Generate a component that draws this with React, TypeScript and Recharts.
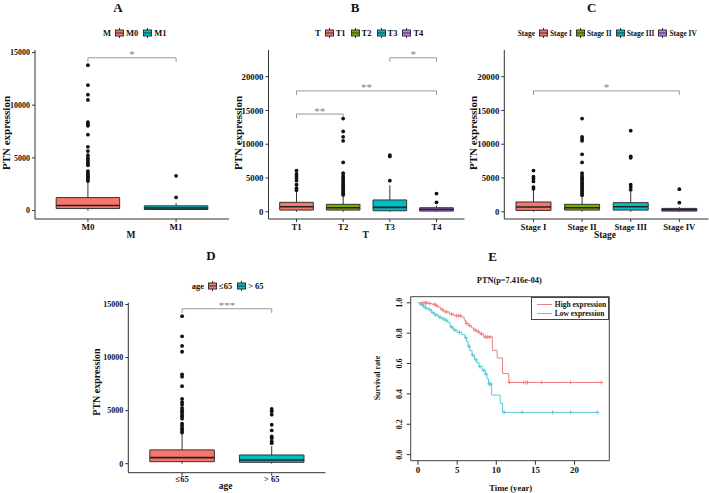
import React from "react"
import {
  ComposedChart,
  Line,
  ReferenceArea,
  ReferenceLine,
  Scatter,
  XAxis,
  YAxis,
} from "recharts"

const FONT = '"Liberation Serif", "Times New Roman", serif'
const TWO = ["#F8766D", "#00BFC4"]
const FOUR = ["#F8766D", "#7CAE00", "#00BFC4", "#C77CFF"]

// A: M stage
const mCats = ["M0", "M1"]
const mLow = [0, 40]
const mQ1 = [190, 100]
const mMed = [480, 250]
const mQ3 = [1230, 450]
const mHigh = [2750, 700]
const mOut = [
  [13800, 11900, 11000, 10500, 8400, 8200, 8050, 7200, 6050, 5650, 5250, 5000, 4800, 4600, 4450, 4300, 3750, 3580, 3420, 3260, 3100, 2950, 2800],
  [3300, 1250],
]
const mBrackets: [number, number, number, string][] = [[1, 2, 14500, "*"]]

// B: T stage
const tCats = ["T1", "T2", "T3", "T4"]
const tLow = [0, 0, 0, 0]
const tQ1 = [250, 250, 150, 100]
const tMed = [750, 600, 650, 350]
const tQ3 = [1400, 1100, 1750, 600]
const tHigh = [3000, 2400, 3900, 900]
const tOut = [
  [6100, 5600, 5300, 5000, 4600, 4000, 3500, 3200],
  [13800, 11900, 11100, 10500, 7300, 5700, 5300, 5000, 4750, 4500, 4250, 4000, 3750, 3500, 3250, 3000, 2750, 2500],
  [8400, 8200, 4600],
  [2700, 1400],
]
const tBrackets: [number, number, number, string][] = [
  [1, 2, 14470, "**"],
  [1, 4, 17900, "**"],
  [3, 4, 22800, "*"],
]

// C: pathological stage
const sCats = ["Stage I", "Stage II", "Stage III", "Stage IV"]
const sLow = [0, 0, 0, 0]
const sQ1 = [200, 250, 250, 100]
const sMed = [700, 600, 750, 300]
const sQ3 = [1450, 1100, 1350, 500]
const sHigh = [3200, 2300, 3000, 700]
const sOut = [
  [6100, 5200, 4900, 4500, 3650, 3400],
  [13800, 11100, 10800, 10500, 8500, 7300, 5700, 5300, 5000, 4800, 4500, 4200, 3900, 3600, 3300, 3000, 2700, 2450],
  [12000, 8200, 8000, 4000, 3650, 3250],
  [3350, 1350],
]
const sBrackets: [number, number, number, string][] = [[1, 4, 17900, "*"]]

// D: age
const aCats = ["≤65", "> 65"]
const aLow = [0, 0]
const aQ1 = [190, 130]
const aMed = [570, 350]
const aQ3 = [1300, 820]
const aHigh = [2800, 1650]
const aOut = [
  [13900, 12000, 11100, 10550, 8420, 8200, 7300, 6100, 5800, 5570, 5250, 5030, 4840, 4620, 4460, 4240, 3770, 3580, 3350, 3130, 2940],
  [5160, 4940, 4620, 3670, 3130, 2560, 2400, 2090, 1930],
]
const aBrackets: [number, number, number, string][] = [[1, 2, 14600, "***"]]

// E: Kaplan-Meier
const hiT = [0, 1.3, 1.8, 2.3, 2.6, 2.9, 3.3, 4.0, 4.6, 5.6, 5.9, 6.1, 6.4, 6.8, 7.1, 7.5, 7.9, 8.4, 9.5, 10.1, 10.8, 11.6, 23.5]
const hiS = [1.0, 0.995, 0.99, 0.98, 0.97, 0.955, 0.94, 0.925, 0.915, 0.905, 0.885, 0.865, 0.85, 0.835, 0.82, 0.81, 0.795, 0.775, 0.687, 0.637, 0.534, 0.475, 0.475]
const loT = [0, 0.3, 0.6, 0.9, 1.3, 1.7, 2.1, 2.6, 3.0, 3.4, 3.8, 4.1, 4.5, 5.0, 5.6, 6.0, 6.2, 6.4, 6.6, 6.9, 7.2, 7.5, 7.8, 8.2, 8.6, 8.8, 9.0, 9.4, 10.5, 10.8, 23.0]
const loS = [1.0, 0.99, 0.98, 0.965, 0.955, 0.935, 0.92, 0.905, 0.895, 0.885, 0.87, 0.84, 0.82, 0.805, 0.79, 0.77, 0.745, 0.715, 0.685, 0.655, 0.625, 0.605, 0.58, 0.555, 0.53, 0.5, 0.465, 0.392, 0.337, 0.278, 0.278]
const hiCensT = [0.6, 0.9, 1.1, 1.5, 2.1, 2.4, 3.1, 3.6, 4.3, 4.9, 5.2, 5.4, 6.2, 6.6, 7.3, 7.7, 8.1, 8.6, 8.9, 9.2, 11.7, 13.5, 13.8, 14.0, 15.8, 19.5, 23.4]
const hiCensS = [1.0, 1.0, 1.0, 0.995, 0.99, 0.98, 0.955, 0.94, 0.925, 0.915, 0.915, 0.915, 0.865, 0.85, 0.82, 0.81, 0.795, 0.775, 0.775, 0.775, 0.475, 0.475, 0.475, 0.475, 0.475, 0.475, 0.475]
const loCensT = [0.4, 0.7, 1.0, 1.5, 1.9, 2.3, 2.8, 3.2, 3.6, 4.3, 4.7, 5.3, 6.1, 6.5, 7.0, 7.4, 7.9, 8.4, 8.7, 9.1, 9.3, 11.0, 13.3, 17.2, 19.5, 22.9]
const loCensS = [0.99, 0.98, 0.965, 0.955, 0.935, 0.92, 0.905, 0.895, 0.885, 0.84, 0.82, 0.805, 0.77, 0.715, 0.655, 0.625, 0.58, 0.555, 0.53, 0.465, 0.465, 0.278, 0.278, 0.278, 0.278, 0.278]
const kmTicksX = [0, 5, 10, 15, 20]
const kmTicksY = [0, 0.2, 0.4, 0.6, 0.8, 1.0]

const HI = "#F08080"
const LO = "#5CC8D5"

function Txt({ x, y, size, children, rot, color = "#111" }: any) {
  return (
    <div
      style={{
        position: "absolute",
        left: x,
        top: y,
        transform: `translate(-50%, -50%)${rot ? " rotate(-90deg)" : ""}`,
        fontSize: size,
        fontWeight: "bold",
        whiteSpace: "nowrap",
        lineHeight: 1,
        color,
      }}
    >
      {children}
    </div>
  )
}

function BoxKey({ color }: { color: string }) {
  return (
    <svg width={9} height={10} style={{ display: "block", marginRight: 2 }}>
      <line x1={4.5} y1={0} x2={4.5} y2={10} stroke="#333" strokeWidth={1} />
      <rect x={0.5} y={2} width={8} height={6} fill={color} stroke="#333" strokeWidth={1} />
      <line x1={0.5} y1={5} x2={8.5} y2={5} stroke="#333" strokeWidth={1} />
    </svg>
  )
}

function KeyRow({ title, cats, colors, x, y, size, gap = 5 }: any) {
  return (
    <div
      style={{
        position: "absolute",
        left: x,
        top: y - 6,
        height: 12,
        display: "flex",
        alignItems: "center",
        fontSize: size,
        fontWeight: "bold",
        whiteSpace: "nowrap",
        color: "#111",
      }}
    >
      <span style={{ marginRight: 4 }}>{title}</span>
      {cats.map((c: string, i: number) => (
        <React.Fragment key={c}>
          <BoxKey color={colors[i]} />
          <span style={{ marginRight: gap }}>{c}</span>
        </React.Fragment>
      ))}
    </div>
  )
}

type BoxPanelProps = {
  cats: string[]
  low: number[]
  q1: number[]
  med: number[]
  q3: number[]
  high: number[]
  out: number[][]
  colors: string[]
  brackets: [number, number, number, string][]
  tip: number
  yDomain: [number, number]
  yTicks: number[]
  box: { left: number; top: number; width: number; height: number }
  plot: { left: number; top: number; right: number; bottom: number }
  yFont: number
  xFont: number
  xTickMargin?: number
}

function BoxPanel(p: BoxPanelProps) {
  const YW = 30
  const XH = 20
  const hw = 0.36
  const margin = {
    left: p.plot.left - p.box.left - YW,
    top: p.plot.top - p.box.top,
    right: p.box.left + p.box.width - p.plot.right,
    bottom: p.box.top + p.box.height - p.plot.bottom - XH,
  }
  const pts = p.out.flatMap((vals, i) => vals.map((v) => ({ x: i + 1, y: v })))
  const labels = p.brackets.map(([a, b, y, t]) => ({ x: (a + b) / 2, y, t }))
  const tickStyle = (size: number) => ({
    fontSize: size,
    fontWeight: "bold",
    fontFamily: FONT,
    fill: "#111",
  })

  return (
    <div style={{ position: "absolute", left: p.box.left, top: p.box.top }}>
      <ComposedChart width={p.box.width} height={p.box.height} margin={margin}>
        <XAxis
          type="number"
          dataKey="x"
          domain={[0.4, p.cats.length + 0.6]}
          ticks={p.cats.map((_, i) => i + 1)}
          tickFormatter={(v: number) => p.cats[Math.round(v) - 1]}
          interval={0}
          allowDataOverflow
          height={XH}
          stroke="#333"
          tickSize={3}
          tickMargin={p.xTickMargin ?? 2}
          tick={tickStyle(p.xFont)}
        />
        <YAxis
          type="number"
          dataKey="y"
          domain={p.yDomain}
          ticks={p.yTicks}
          allowDataOverflow
          width={YW}
          stroke="#333"
          tickSize={3}
          tick={tickStyle(p.yFont)}
        />
        {p.cats.map((c, i) => (
          <ReferenceLine
            key={"wl" + c}
            segment={[{ x: i + 1, y: p.low[i] }, { x: i + 1, y: p.q1[i] }]}
            stroke="#333"
          />
        ))}
        {p.cats.map((c, i) => (
          <ReferenceLine
            key={"wh" + c}
            segment={[{ x: i + 1, y: p.q3[i] }, { x: i + 1, y: p.high[i] }]}
            stroke="#333"
          />
        ))}
        {p.cats.map((c, i) => (
          <ReferenceArea
            key={"b" + c}
            x1={i + 1 - hw}
            x2={i + 1 + hw}
            y1={p.q1[i]}
            y2={p.q3[i]}
            fill={p.colors[i]}
            fillOpacity={1}
            stroke="#333"
            strokeWidth={1}
          />
        ))}
        {p.cats.map((c, i) => (
          <ReferenceLine
            key={"m" + c}
            segment={[{ x: i + 1 - hw, y: p.med[i] }, { x: i + 1 + hw, y: p.med[i] }]}
            stroke="#222"
            strokeWidth={1.6}
          />
        ))}
        {p.brackets.map(([a, b, y], k) => (
          <ReferenceLine
            key={"bh" + k}
            segment={[{ x: a, y }, { x: b, y }]}
            stroke="#999"
          />
        ))}
        {p.brackets.map(([a, , y], k) => (
          <ReferenceLine
            key={"bl" + k}
            segment={[{ x: a, y }, { x: a, y: y - p.tip }]}
            stroke="#999"
          />
        ))}
        {p.brackets.map(([, b, y], k) => (
          <ReferenceLine
            key={"br" + k}
            segment={[{ x: b, y }, { x: b, y: y - p.tip }]}
            stroke="#999"
          />
        ))}
        <Scatter
          data={pts}
          dataKey="y"
          isAnimationActive={false}
          shape={(s: any) => <circle cx={s.cx} cy={s.cy} r={1.9} fill="#111" />}
        />
        <Scatter
          data={labels}
          dataKey="y"
          isAnimationActive={false}
          shape={(s: any) => (
            <text
              x={s.cx}
              y={s.cy + 0.5}
              textAnchor="middle"
              fontSize={11}
              fontFamily={FONT}
              fill="#808080"
            >
              {s.payload?.t ?? s.t}
            </text>
          )}
        />
      </ComposedChart>
    </div>
  )
}

const RotTick = (p: any) => (
  <text
    x={p.x - 3}
    y={p.y}
    transform={`rotate(-90 ${p.x - 3} ${p.y})`}
    textAnchor="middle"
    fontSize={8}
    fontWeight="bold"
    fontFamily={FONT}
    fill="#111"
  >
    {Number(p.payload.value).toFixed(1)}
  </text>
)

const plus = (color: string) => (s: any) => (
  <g stroke={color} strokeWidth={1}>
    <line x1={s.cx - 2} y1={s.cy} x2={s.cx + 2} y2={s.cy} />
    <line x1={s.cx} y1={s.cy - 2} x2={s.cx} y2={s.cy + 2} />
  </g>
)

export default function App() {
  const hiData = hiT.map((t, i) => ({ t, s: hiS[i] }))
  const loData = loT.map((t, i) => ({ t, s: loS[i] }))
  const hiCens = hiCensT.map((t, i) => ({ t, s: hiCensS[i] }))
  const loCens = loCensT.map((t, i) => ({ t, s: loCensS[i] }))

  return (
    <div
      style={{
        position: "absolute",
        left: 0,
        top: 0,
        width: 709,
        height: 493,
        background: "#fff",
        fontFamily: FONT,
        overflow: "hidden",
      }}
    >
      {/* A */}
      <Txt x={118} y={7} size={13}>A</Txt>
      <KeyRow title="M" cats={mCats} colors={TWO} x={103} y={33.3} size={8.5} />
      <BoxPanel
        cats={mCats} low={mLow} q1={mQ1} med={mMed} q3={mQ3} high={mHigh} out={mOut}
        colors={TWO} brackets={mBrackets} tip={380}
        yDomain={[-800, 15240]} yTicks={[0, 5000, 10000, 15000]}
        box={{ left: 0, top: 40, width: 240, height: 200 }}
        plot={{ left: 35, top: 50, right: 229, bottom: 219 }}
        yFont={8} xFont={9}
      />
      <Txt x={5.5} y={133} size={11} rot>PTN expression</Txt>
      <Txt x={131} y={236} size={9.5}>M</Txt>

      {/* B */}
      <Txt x={355} y={7} size={13}>B</Txt>
      <KeyRow title="T" cats={tCats} colors={FOUR} x={315} y={33.3} size={8.5} />
      <BoxPanel
        cats={tCats} low={tLow} q1={tQ1} med={tMed} q3={tQ3} high={tHigh} out={tOut}
        colors={FOUR} brackets={tBrackets} tip={600}
        yDomain={[-1070, 23950]} yTicks={[0, 5000, 10000, 15000, 20000]}
        box={{ left: 236, top: 40, width: 234, height: 200 }}
        plot={{ left: 268.5, top: 50, right: 464.5, bottom: 219 }}
        yFont={8.8} xFont={8.7}
      />
      <Txt x={238.3} y={133} size={11} rot>PTN expression</Txt>
      <Txt x={365.7} y={236} size={9.5}>T</Txt>

      {/* C */}
      <Txt x={591.7} y={7} size={13}>C</Txt>
      <KeyRow title="Stage" cats={sCats} colors={FOUR} x={517.7} y={33.3} size={7.4} gap={4} />
      <BoxPanel
        cats={sCats} low={sLow} q1={sQ1} med={sMed} q3={sQ3} high={sHigh} out={sOut}
        colors={FOUR} brackets={sBrackets} tip={600}
        yDomain={[-1070, 23950]} yTicks={[0, 5000, 10000, 15000, 20000]}
        box={{ left: 472, top: 40, width: 237, height: 200 }}
        plot={{ left: 504.3, top: 50, right: 708.5, bottom: 219 }}
        yFont={8.8} xFont={8.7}
      />
      <Txt x={473.3} y={133} size={11} rot>PTN expression</Txt>
      <Txt x={605} y={236} size={9.5}>Stage</Txt>

      {/* D */}
      <Txt x={211} y={255} size={13}>D</Txt>
      <KeyRow title="age" cats={aCats} colors={TWO} x={191.7} y={286} size={8.5} />
      <BoxPanel
        cats={aCats} low={aLow} q1={aQ1} med={aMed} q3={aQ3} high={aHigh} out={aOut}
        colors={TWO} brackets={aBrackets} tip={390}
        yDomain={[-850, 15170]} yTicks={[0, 5000, 10000, 15000]}
        box={{ left: 95, top: 295, width: 240, height: 198 }}
        plot={{ left: 128.3, top: 302.7, right: 325.5, bottom: 472.7 }}
        yFont={8} xFont={8.5} xTickMargin={0}
      />
      <Txt x={96.7} y={381.7} size={10} rot>PTN expression</Txt>
      <Txt x={225.7} y={487} size={9.5}>age</Txt>

      {/* E */}
      <Txt x={492.7} y={256} size={13}>E</Txt>
      <Txt x={509.3} y={280.7} size={8.3}>PTN(p=7.416e-04)</Txt>
      <div style={{ position: "absolute", left: 340, top: 290 }}>
        <ComposedChart
          width={369}
          height={203}
          margin={{ left: 40.7, top: 6.7, right: 99.7, bottom: 12.3 }}
        >
          <XAxis
            type="number"
            dataKey="t"
            domain={[-0.94, 24.44]}
            ticks={kmTicksX}
            interval={0}
            allowDataOverflow
            axisLine={false}
            tickSize={4}
            height={20}
            stroke="#333"
            tick={{ fontSize: 9, fontWeight: "bold", fontFamily: FONT, fill: "#111" }}
          />
          <YAxis
            type="number"
            domain={[-0.04, 1.04]}
            ticks={kmTicksY}
            interval={0}
            allowDataOverflow
            axisLine={false}
            tickSize={4}
            width={30}
            stroke="#333"
            tick={RotTick}
          />
          <ReferenceArea
            x1={-0.94}
            x2={24.44}
            y1={-0.04}
            y2={1.04}
            fill="none"
            stroke="#444"
            strokeWidth={1}
          />
          <Line data={hiData} dataKey="s" type="stepAfter" stroke={HI} strokeWidth={1} dot={false} isAnimationActive={false} />
          <Line data={loData} dataKey="s" type="stepAfter" stroke={LO} strokeWidth={1} dot={false} isAnimationActive={false} />
          <Scatter data={hiCens} dataKey="s" shape={plus(HI)} isAnimationActive={false} />
          <Scatter data={loCens} dataKey="s" shape={plus(LO)} isAnimationActive={false} />
        </ComposedChart>
      </div>
      <div
        style={{
          position: "absolute",
          left: 531.3,
          top: 296.7,
          width: 78,
          height: 23.3,
          boxSizing: "border-box",
          border: "1px solid #444",
          background: "#fff",
          fontSize: 7.5,
          fontWeight: "bold",
          color: "#111",
        }}
      >
        {[
          ["High expression", HI, 7.3],
          ["Low expression", LO, 16],
        ].map(([label, color, y]) => (
          <div
            key={label as string}
            style={{ position: "absolute", left: 4.5, top: (y as number) - 5, height: 10, display: "flex", alignItems: "center", whiteSpace: "nowrap" }}
          >
            <div style={{ width: 15, height: 1, background: color as string, marginRight: 3 }} />
            {label}
          </div>
        ))}
      </div>
      <Txt x={378.3} y={378.3} size={8} rot>Survival rate</Txt>
      <Txt x={510.7} y={487.7} size={8.6}>Time (year)</Txt>
    </div>
  )
}
